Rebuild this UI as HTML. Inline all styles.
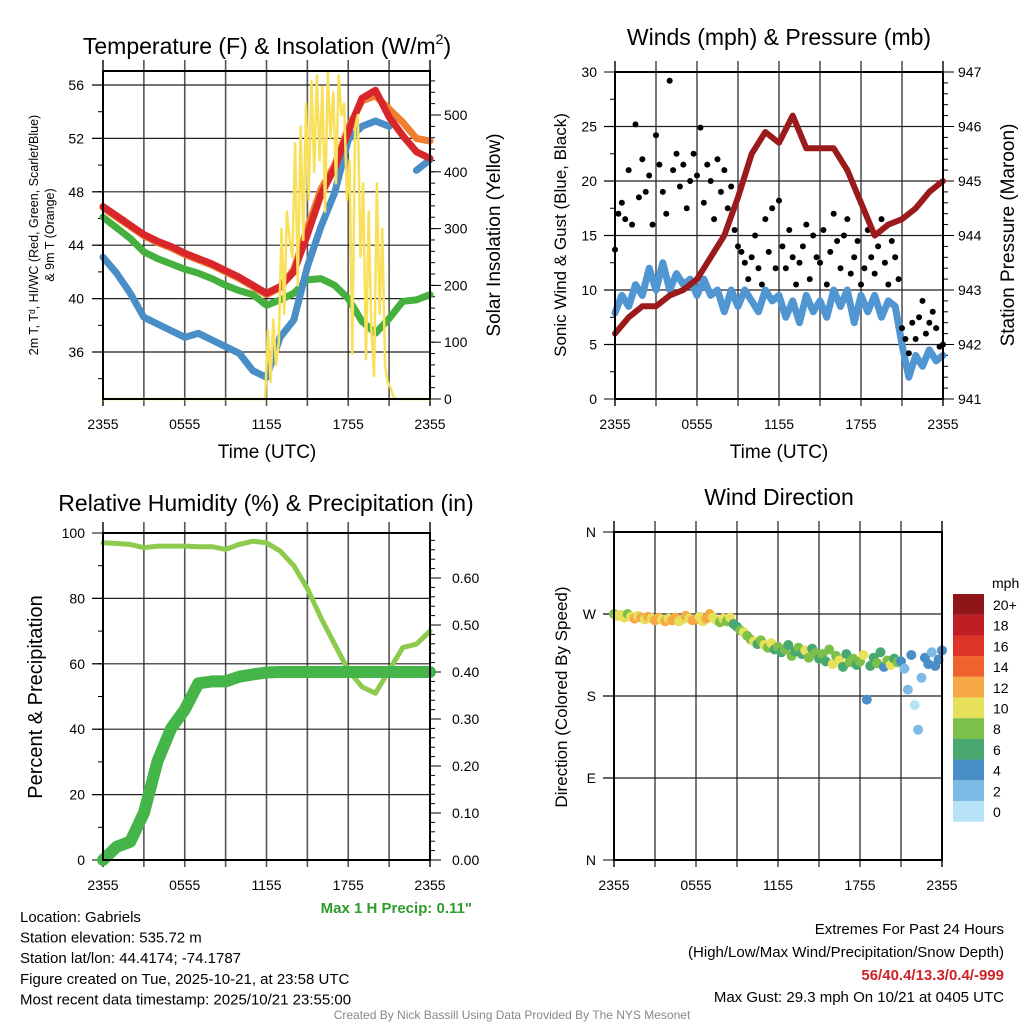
<!DOCTYPE html>
<html><head><meta charset="utf-8"><style>
html,body{margin:0;padding:0;background:#fff;}
svg{display:block;font-family:"Liberation Sans",Arial,sans-serif;}
</style></head><body>
<svg id="chart" width="1024" height="1024" viewBox="0 0 1024 1024"></svg>
<script>
// ---------- DATA ----------
const hourlyTicks = ["2355","0555","1155","1755","2355"];
const tempTicks = [36,40,44,48,52,56];
const insolTicks = [0,100,200,300,400,500];
const windTicks = [0,5,10,15,20,25,30];
const presTicks = [941,942,943,944,945,946,947];
const rhTicks = [0,20,40,60,80,100];
const precipTicks = [0.00,0.10,0.20,0.30,0.40,0.50,0.60];
const dirTicks = [["N",0],["E",90],["S",180],["W",270],["N",360]];
const cbLabels = ["20+","18","16","14","12","10","8","6","4","2","0"];
const cbColors = ["#8f1519","#be1e24","#dc3428","#ef622e","#f7a945","#e7e05a","#7cc04a","#48a870","#4a8ec8","#7dbbe6","#b8e2f7"];

// Hourly (0..24 h)
const temp2m = [46.9,46.2,45.5,44.8,44.3,43.9,43.4,43.0,42.6,42.1,41.6,41.0,40.4,40.9,42.0,44.8,47.8,49.8,52.5,55.0,55.6,53.6,52.2,51.0,50.5];
const temp9m = [46.8,46.1,45.4,44.7,44.2,43.8,43.3,42.9,42.5,42.0,41.5,40.9,40.3,40.8,42.2,45.3,48.2,50.0,52.8,54.8,55.2,54.2,53.2,52.0,51.8];
const dewpt = [46.1,45.3,44.5,43.5,43.0,42.6,42.2,41.9,41.5,41.0,40.6,40.3,39.5,39.9,40.4,41.4,41.5,41.0,40.0,38.3,37.4,38.5,39.8,39.9,40.3];
const windChill = [43.1,41.9,40.4,38.6,38.1,37.6,37.1,37.4,36.9,36.4,35.9,34.6,34.1,37.1,38.4,42.4,45.4,47.9,51.9,52.9,53.3,52.9,null,49.6,50.4];
const insolHours = [0,11.9,12.1,12.3,12.5,12.7,12.9,13.1,13.3,13.5,13.7,13.9,14.1,14.3,14.5,14.7,14.9,15.1,15.3,15.5,15.7,15.9,16.1,16.3,16.5,16.7,16.9,17.1,17.3,17.5,17.7,17.9,18.1,18.3,18.5,18.7,18.9,19.1,19.3,19.5,19.7,19.9,20.1,20.3,20.5,20.7,20.9,21.1,21.3,21.5,24];
const insolVals = [0,0,120,30,140,60,100,300,150,330,280,250,450,200,480,280,520,350,560,400,570,420,550,330,575,460,540,380,570,500,520,350,420,80,480,500,250,380,70,330,120,40,380,150,300,60,30,20,5,0,0];
const pressure = [942.2,942.5,942.7,942.7,942.9,943.0,943.2,943.6,944.0,944.7,945.5,945.9,945.7,946.2,945.6,945.6,945.6,945.2,944.6,944.0,944.2,944.3,944.5,944.8,945.0];
// half-hourly
const windSpd = [7.9,9.5,8.5,10.5,9.5,12,10,12.5,10,11.5,10.5,11,9.5,11,9.5,10,8,10,8.5,10,9,8,10,9,9.5,7.5,9,7,9.5,8,9,7.5,10,8.5,10,7,9.5,8,9.5,7.5,9,8.5,5,2,4,3,4.5,3.5,4];
// 15-minute
const gustVals = [13.7,17,18,16.5, 21,16,25.2,18.5, 22,19,20.5,16, 24.2,21.5,19,17, 29.2,21,22.5,19.5, 21.5,17.5,20,22.5, 20.5,24.9,18,21.5, 20,16.5,22,19, 21,17.5,19.5,15.5, 14,13.5,12.5,11, 13,15,12,10.5, 16.5,13.5,17.5,12, 18.2,14,12,15.5, 13,10.5,12.5,14, 16,11,15,13, 12.5,15.5,10.5,13.5, 17,14.5,12,15, 16.5,11.5,13,14.5, 10.5,12,15.5,13, 11.5,14,16.5,12.5, 10.5,14.5,13,11, 6.5,5.5,4.2,7, 5.5,7.5,9,6, 7,8,6.5,4.8, 5];
const rh = [97,96.8,96.5,95.5,96,96,96,95.8,95.8,95,96.5,97.5,97,94.5,90,83,74,66,58,53,51,58,65,66,70];
const precip = [0,0.028,0.039,0.1,0.21,0.28,0.32,0.376,0.38,0.38,0.39,0.395,0.399,0.4,0.4,0.4,0.4,0.4,0.4,0.4,0.4,0.4,0.4,0.4,0.4];
const dirVals = [270,268,269,266,270,267,265,268,266,264,267,265, 263,266,264,262,265,263,266,262,264,268,265,263, 264,267,262,265,270,266,263,261,265,262,266,259, 256,252,250,246,242,240,237,241,236,233,238,231, 234,228,231,236,224,229,233,226,230,222,232,227, 221,226,218,231,215,224,219,212,226,217,221,214, 218,225,176,213,222,216,228,212,219,214,221,217, 218,210,187,225,170,143,200,222,215,228,213,220, 230];
const dirSpeed = [8,10,11,10,9,10,12,11,13,10,12,11, 12,13,11,12,10,13,12,11,10,12,11,13, 12,10,11,13,12,10,11,9,11,8,10,7, 7,9,10,8,9,10,7,8,10,9,11,7, 8,7,9,6,8,7,9,6,10,8,7,9, 7,8,6,9,11,8,10,6,7,9,8,7, 8,10,4,7,6,8,7,5,8,10,7,8, 5,3,2,4,1,2,2,4,5,3,4,5, 4];

// ---------- HELPERS ----------
const NS = "http://www.w3.org/2000/svg";
const svg = document.getElementById("chart");
function mk(tag, attrs, parent) {
  const el = document.createElementNS(NS, tag);
  for (const k in attrs) el.setAttribute(k, attrs[k]);
  (parent || svg).appendChild(el);
  return el;
}
function txt(s, x, y, size, anchor, extra, name) {
  const t = mk("text", Object.assign({x: x, y: y, "font-size": size, "text-anchor": anchor || "middle", fill: "#000"}, extra || {}));
  t.textContent = s;
  
  
  return t;
}
function panel(x0, x1, y0, y1) { return {x0, x1, y0, y1, xs: h => x0 + h / 24 * (x1 - x0)}; }
const P1 = panel(103, 430, 71, 399), P2 = panel(615, 943, 72, 399), P3 = panel(103, 430, 533, 860), P4 = panel(614, 942, 532, 860);

function lineFrom(p, hours, vals, yf, stroke, width, name) {
  let d = "", pen = false;
  for (let i = 0; i < vals.length; i++) {
    if (vals[i] === null) { pen = false; continue; }
    d += (pen ? "L" : "M") + p.xs(hours[i]).toFixed(1) + "," + yf(vals[i]).toFixed(1);
    pen = true;
  }
  const el = mk("path", {d: d, fill: "none", stroke: stroke, "stroke-width": width, "stroke-linejoin": "round", "stroke-linecap": "round"});
  
  
  return el;
}
function idxHours(n, step) { const a = []; for (let i = 0; i < n; i++) a.push(i * step); return a; }

function frame(p, hgrid, name) {
  const g = mk("g", {});
  
  
  for (let h = 3; h < 24; h += 3) {
    const gl = mk("line", {x1: p.xs(h), x2: p.xs(h), y1: p.y0 - 11, y2: p.y1 + 7, stroke: "#555", "stroke-width": 1.6}, g);
    
    
  }
  hgrid.forEach(y => {
    const gl = mk("line", {x1: p.x0 - 11, x2: p.x1, y1: y, y2: y, stroke: "#222", "stroke-width": 1.2}, g);
    
    
  });
  [0, 24].forEach(h => {
    const tk = mk("line", {x1: p.xs(h), x2: p.xs(h), y1: p.y0 - 11, y2: p.y1 + 7, stroke: "#000", "stroke-width": 1.4}, g);
    
    
  });
  hourlyTicks.forEach((s, i) => txt(s, p.xs(i * 6), p.y1 + 30, 14, "middle", {}, "x-tick-label"));
  return g;
}
function border(p) {
  const r = mk("rect", {x: p.x0, y: p.y0, width: p.x1 - p.x0, height: p.y1 - p.y0, fill: "none", stroke: "#000", "stroke-width": 2});
  
  
}
function yTicks(p, side, from, to, step, yf, len) {
  for (let v = from; v <= to + 1e-9; v += step) {
    const y = yf(v);
    if (y < p.y0 - 0.5 || y > p.y1 + 0.5) continue;
    const x = side === "L" ? p.x0 : p.x1;
    const dx = side === "L" ? -len : len;
    const t = mk("line", {x1: x, x2: x + dx, y1: y, y2: y, stroke: "#000", "stroke-width": 1});
    
    
  }
}
function rotLabel(s, x, y, size, name) {
  return txt(s, x, y, size, "middle", {transform: "rotate(-90 " + x + " " + y + ")"}, name);
}

// ---------- PANEL 1 ----------
const yT = t => 352 - (t - 36) * 13.35;
const yI = v => 399 - v * 0.568;
const t1 = txt("Temperature (F) & Insolation (W/m", 267, 54, 23, "middle", {}, "temperature-title");
const sup = mk("tspan", {dy: -10, "font-size": 14}, t1);
sup.textContent = "2";
const cl = mk("tspan", {dy: 10}, t1);
cl.textContent = ")";
frame(P1, tempTicks.map(yT), "temperature-grid");
yTicks(P1, "L", 34, 56, 2, yT, 5); yTicks(P1, "L", 36, 56, 4, yT, 11);
yTicks(P1, "R", 0, 560, 20, yI, 5); yTicks(P1, "R", 0, 500, 100, yI, 11);
tempTicks.forEach(t => txt(String(t), 84, yT(t) + 5, 14, "end", {}, "temp-tick-label"));
insolTicks.forEach(v => txt(String(v), 444, yI(v) + 5, 14, "start", {}, "insolation-tick-label"));
lineFrom(P1, idxHours(25, 1), dewpt, yT, "#46b03f", 7, "dewpoint-line");
lineFrom(P1, idxHours(25, 1), windChill, yT, "#4a8ec8", 7, "windchill-line");
lineFrom(P1, idxHours(25, 1), temp9m, yT, "#f07f30", 7, "temp-9m-line");
lineFrom(P1, idxHours(25, 1), temp2m, yT, "#d8262a", 7, "temp-2m-line");
lineFrom(P1, insolHours, insolVals, yI, "#f9e05a", 2.5, "insolation-line");
border(P1);
txt("Time (UTC)", 267, 458, 19, "middle", {}, "x-axis-title");
rotLabel("2m T, T\u1d48, HI/WC (Red, Green, Scarlet/Blue)", 38, 235, 12.5, "temp-y-axis-title");
rotLabel("& 9m T (Orange)", 54, 235, 12.5, "temp-y-axis-title-2");
rotLabel("Solar Insolation (Yellow)", 500, 235, 19, "insolation-y-axis-title");

// ---------- PANEL 2 ----------
const yW = m => 399 - m * 10.9;
const yP = p => 399 - (p - 941) * 54.5;
txt("Winds (mph) & Pressure (mb)", 779, 45, 23, "middle", {}, "winds-title");
frame(P2, [5, 10, 15, 20, 25].map(yW), "winds-grid");
yTicks(P2, "L", 0, 30, 2.5, yW, 5); yTicks(P2, "L", 0, 30, 5, yW, 11);
yTicks(P2, "R", 941, 947, 0.2, yP, 5); yTicks(P2, "R", 941, 947, 1, yP, 11);
windTicks.forEach(t => txt(String(t), 597, yW(t) + 5, 14, "end", {}, "wind-tick-label"));
presTicks.forEach(t => txt(String(t), 958, yP(t) + 5, 14, "start", {}, "pressure-tick-label"));
lineFrom(P2, idxHours(49, 0.5), windSpd, yW, "#4f96d2", 7, "sonic-wind-line");
const gustHours = idxHours(gustVals.length, 0.25);
gustVals.forEach((g, i) => {
  const c = mk("circle", {cx: P2.xs(gustHours[i]), cy: yW(g), r: 3, fill: "#000"});
  
  
});
lineFrom(P2, idxHours(25, 1), pressure, yP, "#9b1a1c", 6, "pressure-line");
border(P2);
txt("Time (UTC)", 779, 458, 19, "middle", {}, "x-axis-title-2");
rotLabel("Sonic Wind & Gust (Blue, Black)", 566, 235, 17, "wind-y-axis-title");
rotLabel("Station Pressure (Maroon)", 1014, 235, 19, "pressure-y-axis-title");

// ---------- PANEL 3 ----------
const yR = r => 860 - r * 3.27;
const yPr = v => 860 - v * 470;
txt("Relative Humidity (%) & Precipitation (in)", 266, 511, 23, "middle", {}, "humidity-title");
frame(P3, [20, 40, 60, 80].map(yR), "humidity-grid");
yTicks(P3, "L", 0, 100, 10, yR, 5); yTicks(P3, "L", 0, 100, 20, yR, 11);
yTicks(P3, "R", 0, 0.7, 0.02, yPr, 5); yTicks(P3, "R", 0, 0.6, 0.1, yPr, 11);
rhTicks.forEach(t => txt(String(t), 85, yR(t) + 5, 14, "end", {}, "rh-tick-label"));
precipTicks.forEach(t => txt(t.toFixed(2), 452, yPr(t) + 5, 14, "start", {}, "precip-tick-label"));
lineFrom(P3, idxHours(25, 1), rh, yR, "#8dca4e", 5, "rh-line");
lineFrom(P3, idxHours(25, 1), precip, yPr, "#46b549", 12, "precip-line");
border(P3);
rotLabel("Percent & Precipitation", 42, 697, 20, "rh-y-axis-title");
txt("Max 1 H Precip: 0.11\"", 472, 913, 15, "end", {"font-weight": "bold", fill: "#2e9b2e"}, "max-precip-note");

// ---------- PANEL 4 ----------
const yD = d => 860 - d / 360 * 328;
txt("Wind Direction", 779, 505, 23, "middle", {}, "wind-direction-title");
frame(P4, [90, 180, 270].map(yD), "direction-grid");
dirTicks.forEach(([s, d]) => {
  txt(s, 596, yD(d) + 5, 14, "end", {}, "direction-tick-label");
  const t = mk("line", {x1: P4.x0, x2: P4.x0 - 11, y1: yD(d), y2: yD(d), stroke: "#000", "stroke-width": 1});
  
  
});
const dirHours = idxHours(dirVals.length, 0.25);
dirVals.forEach((d, i) => {
  const ci = 10 - Math.min(10, Math.floor(dirSpeed[i] / 2));
  const c = mk("circle", {cx: P4.xs(dirHours[i]), cy: yD(d), r: 5, fill: cbColors[ci]});
  
  
});
border(P4);
rotLabel("Direction (Colored By Speed)", 567, 697, 17, "direction-y-axis-title");
txt("mph", 992, 588, 14, "start", {}, "colorbar-unit");
cbColors.forEach((c, i) => {
  const r = mk("rect", {x: 953, y: 594 + i * 20.7, width: 31, height: 20.8, fill: c});
  
  
  txt(cbLabels[i], 993, 594 + i * 20.7 + 16, 14, "start", {}, "colorbar-label");
});

// ---------- FOOTER ----------
["Location: Gabriels", "Station elevation: 535.72 m", "Station lat/lon: 44.4174; -74.1787",
 "Figure created on Tue, 2025-10-21, at 23:58 UTC", "Most recent data timestamp: 2025/10/21 23:55:00"]
 .forEach((s, i) => txt(s, 20, 922 + i * 20.6, 15, "start", {}, "station-info-line"));
txt("Extremes For Past 24 Hours", 1004, 934, 15, "end", {}, "extremes-heading");
txt("(High/Low/Max Wind/Precipitation/Snow Depth)", 1004, 957, 15, "end", {}, "extremes-subheading");
txt("56/40.4/13.3/0.4/-999", 1004, 980, 15, "end", {"font-weight": "bold", fill: "#cc2229"}, "extremes-values");
txt("Max Gust: 29.3 mph On 10/21 at 0405 UTC", 1004, 1002, 15, "end", {}, "max-gust-note");
txt("Created By Nick Bassill Using Data Provided By The NYS Mesonet", 512, 1019, 12, "middle", {fill: "#888"}, "credit-line");
</script>
</body></html>
